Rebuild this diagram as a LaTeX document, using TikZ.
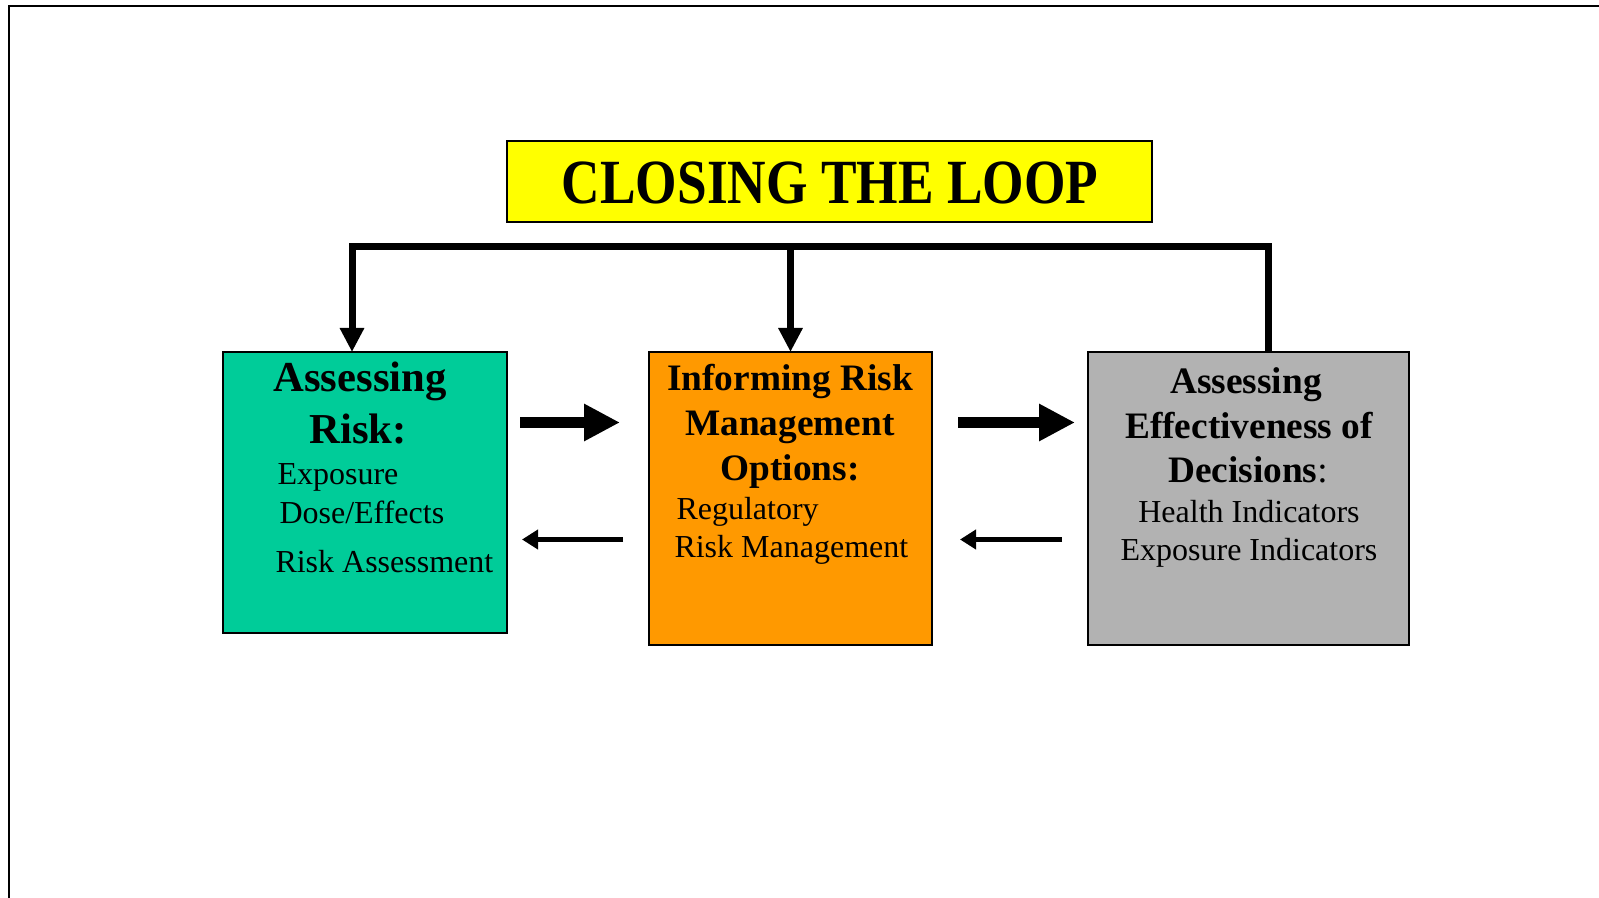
\documentclass[tikz,border=0pt]{standalone}
\usepackage{fontspec}
\setmainfont{Liberation Serif}
\usetikzlibrary{arrows.meta}

\definecolor{riskgreen}{RGB}{0,204,153}
\definecolor{optorange}{RGB}{255,153,0}
\definecolor{evalgray}{RGB}{178,178,178}
\definecolor{titleyellow}{RGB}{255,255,0}

\tikzset{every picture/.style={line width=0.75pt}}

\begin{document}
\begin{tikzpicture}[x=0.75pt,y=0.75pt,yscale=-1,xscale=1,
  box/.style={draw, line width=1pt, inner sep=0pt, outer sep=0pt, anchor=north west},
  head/.style={inner sep=0pt, anchor=base, font=\bfseries\fontsize{28}{33}\selectfont},
  body/.style={inner sep=0pt, anchor=base west, font=\fontsize{24}{28}\selectfont},
  bodyc/.style={inner sep=0pt, anchor=base, font=\fontsize{24}{28}\selectfont},
  loopline/.style={line width=5.25pt, line join=miter},
  looptip/.style={-{Triangle[length=18pt,width=17.25pt]}},
  fwdarrow/.style={line width=8.8pt, -{Triangle[length=27pt,width=26.25pt]}},
  backarrow/.style={line width=4.3pt, -{Triangle[length=12pt,width=14.25pt]}}]
\useasboundingbox (0,0) rectangle (1599,898);

%Straight Lines: page frame
\draw [line width=1.6pt] (9,898) -- (9,6) -- (1599,6) ;

%Shape: Rectangle, title
\node [box, fill=titleyellow, minimum width=483.75pt, minimum height=60.75pt] (title) at (507,141) {};
% Text Node
\node [inner sep=0pt, font=\bfseries\fontsize{40}{40}\selectfont] (titletext) at (830,183) {\scalebox{1}[1.18]{CLOSING THE LOOP}};

%Shape: Rectangle, three boxes
\node [box, fill=riskgreen, minimum width=213pt, minimum height=210.75pt] (riskbox) at (223,352) {};
\node [box, fill=optorange, minimum width=212.25pt, minimum height=219.75pt] (optbox) at (649,352) {};
\node [box, fill=evalgray, minimum width=240.75pt, minimum height=219.75pt] (evalbox) at (1088,352) {};

%Straight Lines: the loop back
\coordinate (loopR) at (1268,246.5);
\coordinate (loopL) at (352,246.5);
\draw [loopline, looptip] (loopR |- evalbox.north) -- (loopR) -- (loopL) -- (loopL |- riskbox.north) ;
\draw [loopline, looptip] (optbox.north |- loopL) -- (optbox.north) ;

%Straight Lines: arrows between boxes
\coordinate (fwdA) at (520,422.5);
\coordinate (fwdB) at (620,422.5);
\coordinate (fwdC) at (958,422.5);
\coordinate (fwdD) at (1075,422.5);
\coordinate (backA) at (623,539.5);
\coordinate (backB) at (522,539.5);
\coordinate (backC) at (1062,539.5);
\coordinate (backD) at (960,539.5);
\draw [fwdarrow] (fwdA) -- (fwdB) ;
\draw [fwdarrow] (fwdC) -- (fwdD) ;
\draw [backarrow] (backA) -- (backB) ;
\draw [backarrow] (backC) -- (backD) ;

% Text Node
\node [head, font=\bfseries\fontsize{32}{37}\selectfont] (riskhA) at (360,392) {Assessing};
\node [head, font=\bfseries\fontsize{32}{37}\selectfont] (riskhB) at (358,443) {Risk:};
\node [body] (risktA) at (277,484) {Exposure};
\node [body] (risktB) at (279,523) {Dose/Effects};
\node [body] (risktC) at (275,572) {Risk Assessment};

% Text Node
\node [head] (opthA) at (790,391) {Informing Risk};
\node [head] (opthB) at (790,435.5) {Management};
\node [head] (opthC) at (790,480) {Options:};
\node [body] (opttA) at (676,519) {Regulatory};
\node [body] (opttB) at (674,557) {Risk Management};

% Text Node
\node [head] (evalhA) at (1246,394) {Assessing};
\node [head] (evalhB) at (1249,438.5) {Effectiveness of};
\node [head] (evalhC) at (1248,482) {Decisions\mdseries:};
\node [bodyc] (evaltA) at (1249,522) {Health Indicators};
\node [bodyc] (evaltB) at (1249,560) {Exposure Indicators};

\end{tikzpicture}
\end{document}
